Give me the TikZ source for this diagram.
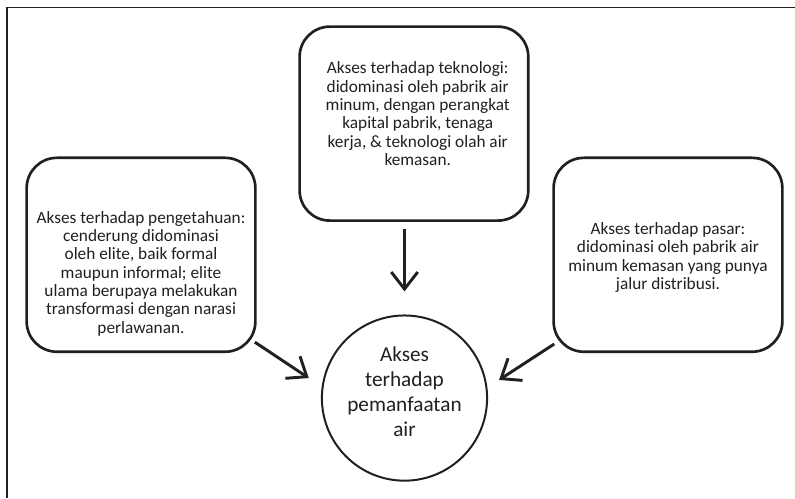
\documentclass[tikz,border=0pt]{standalone}
\usepackage{fontspec}
\setmainfont{Carlito}
\usepackage{xcolor}
\usetikzlibrary{arrows.meta}
\definecolor{tinta}{HTML}{231F20}
\tikzset{
  kotak/.style={draw=tinta, line width=2pt, rounded corners=0.8cm,
    minimum width=6.05cm, minimum height=5.13cm},
  isi/.style={text=tinta, align=center, font=\fontsize{13}{13.8}\selectfont},
  panah/.style={draw=tinta, line width=2.2pt, -{Straight Barb[length=4.5mm,width=7mm]}}
}

\begin{document}
\begin{tikzpicture}
    \useasboundingbox (0,0) rectangle (21.03,13.18);
    \draw[tinta, line width=0.9pt] (21.03,12.99) -- (0.185,12.99) -- (0.185,0);
      % tiga kotak akses
      \node[kotak] (pengetahuan) at (3.73,6.44) {};
      \node[kotak] (teknologi) at (10.95,9.91) {};
      \node[kotak] (pasar) at (17.67,6.44) {};
      \node[isi] (tPengetahuan) at ([yshift=-0.5cm]pengetahuan.center)
        {Akses terhadap pengetahuan:\\ cenderung didominasi\\ oleh elite, baik formal\\
         maupun informal; elite\\ ulama berupaya melakukan\\ transformasi dengan narasi\\ perlawanan.};
      \node[isi] (tTeknologi) at ([shift={(0.1,0.26)}]teknologi.center)
        {Akses terhadap teknologi:\\ didominasi oleh pabrik air\\ minum, dengan perangkat\\
         kapital pabrik, tenaga\\ kerja, \& teknologi olah air\\ kemasan.};
      \node[isi] (tPasar) at ([yshift=-0.07cm]pasar.center)
        {Akses terhadap pasar:\\ didominasi oleh pabrik air\\ minum kemasan yang punya\\ jalur distribusi.};
      % lingkaran tengah
      \node[circle, draw=tinta, line width=1.5pt, minimum size=4.37cm, inner sep=0pt] (air) at (10.70,2.65) {};
      \node[isi, font=\fontsize{16}{18.75}\selectfont] (tAir) at ([yshift=0.16cm]air.center)
        {Akses\\ terhadap\\ pemanfaatan\\ air};
      \draw[panah] ([yshift=-0.19cm]teknologi.south -| air.north) -- ([yshift=0.61cm]air.north);
      \draw[panah] ([shift={(-0.05,0.29)}]pengetahuan.south east) -- ([shift={(-0.32,0.53)}]air.west);
      \draw[panah] ([shift={(0.05,0.24)}]pasar.south west) -- ([shift={(0.29,0.48)}]air.east);
\end{tikzpicture}
\end{document}
